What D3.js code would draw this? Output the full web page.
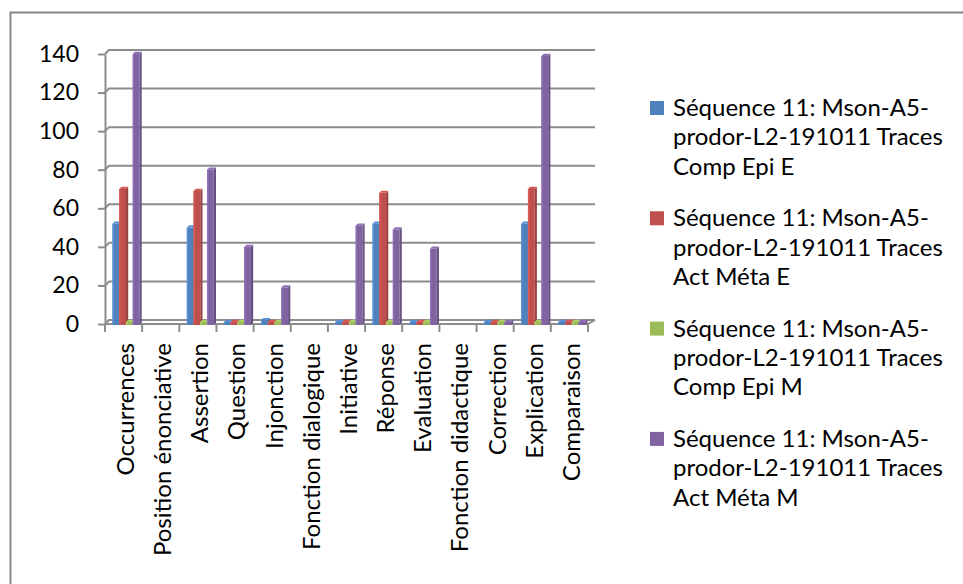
<!DOCTYPE html>
<html>
<head>
<meta charset="utf-8">
<script src="https://cdn.jsdelivr.net/npm/d3@7"></script>
<style>
  body { margin: 0; background: #fff; }
  text { font-family: Lato, "Open Sans", sans-serif; fill: #000; }
</style>
</head>
<body>
<script>
    // categories on the x axis
    var categories = ["Occurrences", "Position énonciative", "Assertion", "Question", "Injonction",
        "Fonction dialogique", "Initiative", "Réponse", "Evaluation", "Fonction didactique",
        "Correction", "Explication", "Comparaison"];

    var seriesNames = [
        "Séquence 11: Mson-A5-prodor-L2-191011 Traces Comp Epi E",
        "Séquence 11: Mson-A5-prodor-L2-191011 Traces Act Méta E",
        "Séquence 11: Mson-A5-prodor-L2-191011 Traces Comp Epi M",
        "Séquence 11: Mson-A5-prodor-L2-191011 Traces Act Méta M"
    ];

    // null = no value at all, 0 = flat slab
    var compEpiE = [52, null, 50, 0, 2, null, 0, 52, 0, null, 0, 52, 0];
    var actMetaE = [70, null, 69, 0, 1, null, 1, 68, 1, null, 0, 70, 0];
    var compEpiM = [1, null, 1, 0, 0, null, 0, 1, 0, null, 0, 1, 0];
    var actMetaM = [140, null, 80, 40, 19, null, 51, 49, 39, null, 0, 139, 1];

    var yTicks = [0, 20, 40, 60, 80, 100, 120, 140];

    var colors = ["#4F81BD", "#C0504D", "#9BBB59", "#8064A2"];
    var seriesValues = [compEpiE, actMetaE, compEpiM, actMetaM];

    var width = 963, height = 584,
        depth = 4,        // 3D depth of back wall
        barDepth = 2.2;   // 3D depth of the columns

    var svg = d3.select("body").append("svg")
        .attr("width", width)
        .attr("height", height);

    // outer chart border
    svg.append("rect")
        .attr("x", 10.5)
        .attr("y", 12.5)
        .attr("width", 1000)
        .attr("height", 700)
        .attr("fill", "#fff")
        .attr("stroke", "#868686")
        .attr("stroke-width", 2);

    var x = d3.scaleBand()
        .domain(categories)
        .range([105, 588]);

    var xInner = d3.scaleBand()
        .domain(d3.range(seriesNames.length))
        .range([7.5, 34.5]);

    var y = d3.scaleLinear()
        .domain([0, 140])
        .range([324, 54]);

    // back wall gridlines
    var grid = svg.append("g");
    yTicks.forEach(function(t) {
        grid.append("path")
            .attr("d", "M105," + y(t) + "L" + (105 + depth) + "," + (y(t) - depth) + "L595," + (y(t) - depth))
            .attr("fill", "none")
            .attr("stroke", "#8c8c8c")
            .attr("stroke-width", 2);
    });

    // floor front edge
    svg.append("path")
        .attr("d", "M105," + y(0) + "L588," + y(0) + "L595," + (y(0) - depth))
        .attr("fill", "none")
        .attr("stroke", "#8c8c8c")
        .attr("stroke-width", 2);

    // y axis
    var yAxis = svg.append("g")
        .attr("transform", "translate(105,0)")
        .call(d3.axisLeft(y).tickValues(yTicks).tickSize(7).tickSizeOuter(0).tickPadding(19));
    yAxis.select(".domain").attr("stroke", "#8c8c8c").attr("stroke-width", 2);
    yAxis.selectAll(".tick line").attr("stroke", "#8c8c8c").attr("stroke-width", 2);
    yAxis.selectAll(".tick text")
        .style("font-family", "Lato, sans-serif")
        .style("font-size", "23px")
        .attr("fill", "#000");

    // x axis ticks at category boundaries
    var xTicks = categories.map(function(c) { return x(c); }).concat([x.range()[1]]);
    svg.append("g").selectAll("line")
        .data(xTicks)
        .enter().append("line")
        .attr("x1", d => d).attr("x2", d => d)
        .attr("y1", y(0)).attr("y2", y(0) + 8)
        .attr("stroke", "#8c8c8c")
        .attr("stroke-width", 2);

    // columns
    function shade(c, k) {
        return k > 0 ? d3.color(c).brighter(k) : d3.color(c).darker(-k);
    }

    var bars = svg.append("g");
    seriesValues.forEach(function(vals, s) {
        vals.forEach(function(v, i) {
            if (v === null) return;
            var x0 = x(categories[i]) + xInner(s),
                w = xInner.bandwidth(),
                top = Math.min(y(v), y(0) - 2),
                base = y(0) + 1,
                d = barDepth;
            var g = bars.append("g");
            g.append("rect")
                .attr("x", x0).attr("y", top)
                .attr("width", w).attr("height", base - top)
                .attr("fill", colors[s]);
            g.append("rect")
                .attr("x", x0).attr("y", top)
                .attr("width", 1.2).attr("height", base - top)
                .attr("fill", shade(colors[s], 0.35));
            g.append("path")
                .attr("d", "M" + (x0 + w) + "," + top + "L" + (x0 + w + d) + "," + (top - d) +
                    "L" + (x0 + w + d) + "," + (base - d) + "L" + (x0 + w) + "," + base + "Z")
                .attr("fill", shade(colors[s], -0.6));
            g.append("path")
                .attr("d", "M" + x0 + "," + top + "L" + (x0 + w) + "," + top +
                    "L" + (x0 + w + d) + "," + (top - d) + "L" + (x0 + d) + "," + (top - d) + "Z")
                .attr("fill", shade(colors[s], 0.3));
        });
    });

    // category labels, rotated
    svg.append("g").selectAll("text")
        .data(categories)
        .enter().append("text")
        .attr("transform", d => "translate(" + (x(d) + x.bandwidth() / 2 + 2) + ",343) rotate(-90)")
        .attr("text-anchor", "end")
        .attr("dy", "0.35em")
        .style("font-size", "24px")
        .text(d => d);

    // legend
    var legend = svg.append("g");
    var maxLine = 282, lineH = 29.3, entryH = 110.3;
    seriesNames.forEach(function(name, s) {
        var baseY = 116 + s * entryH;
        legend.append("rect")
            .attr("x", 650).attr("y", baseY - 15)
            .attr("width", 14).attr("height", 14)
            .attr("fill", colors[s]);

        var t = legend.append("text")
            .attr("x", 673).attr("y", baseY)
            .style("font-size", "24px");
        var tokens = name.split(/(?<=[-\s])/);
        var lines = [], cur = "";
        tokens.forEach(function(tok) {
            var test = cur + tok;
            t.text(test.trim());
            if (cur !== "" && t.node().getComputedTextLength() > maxLine) {
                lines.push(cur.trim());
                cur = tok;
            } else {
                cur = test;
            }
        });
        lines.push(cur.trim());
        t.text(null);
        lines.forEach(function(l, k) {
            t.append("tspan")
                .attr("x", 673)
                .attr("y", baseY + k * lineH)
                .text(l);
        });
    });
</script>
</body>
</html>
